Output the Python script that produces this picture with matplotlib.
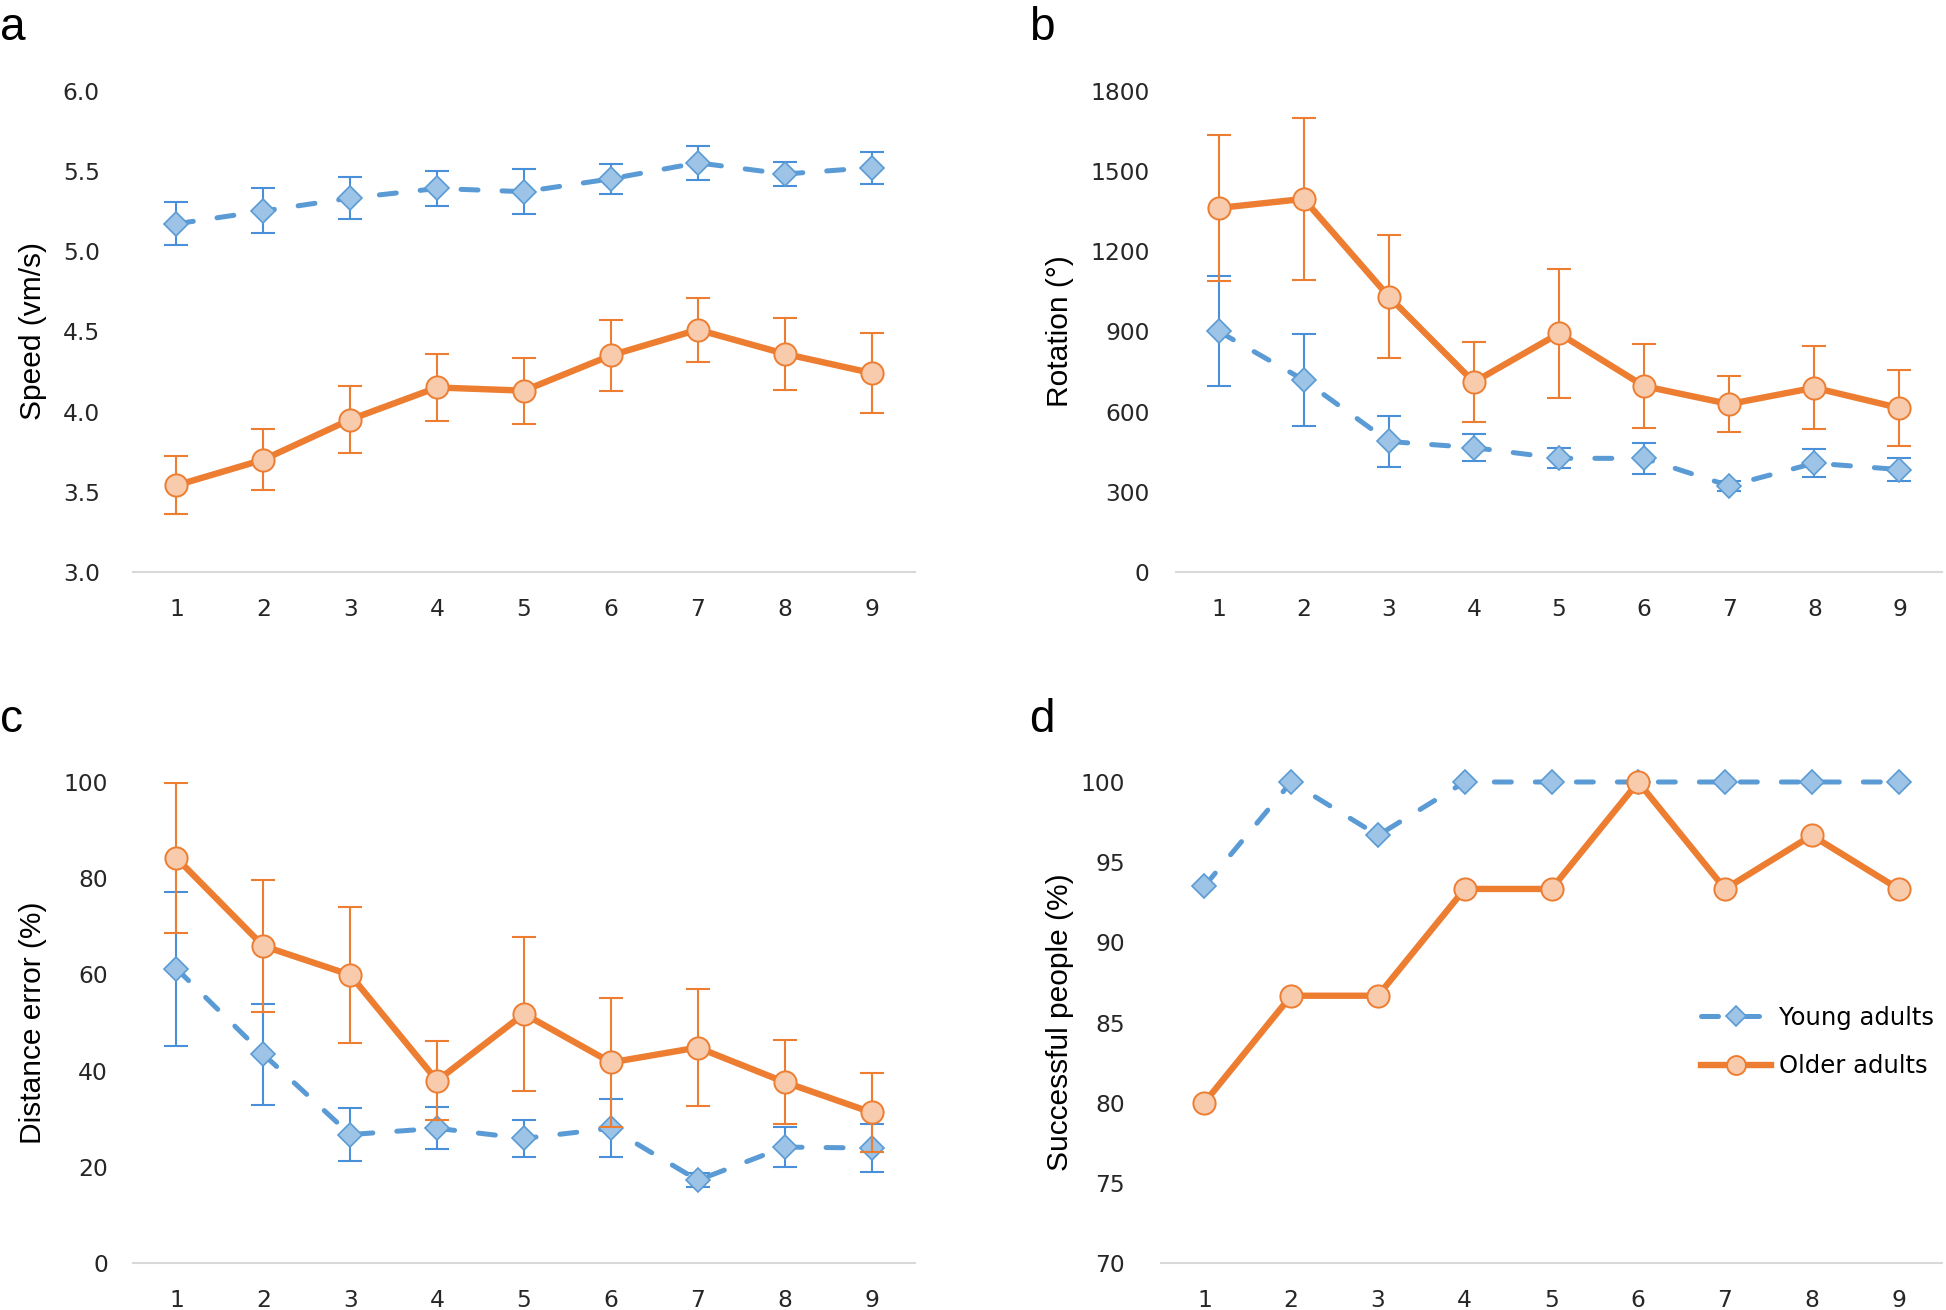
import matplotlib
matplotlib.use("Agg")
import matplotlib.pyplot as plt
from matplotlib import font_manager

# ---------------- data ----------------
sessions = [1, 2, 3, 4, 5, 6, 7, 8, 9]
series_names = ["Young adults", "Older adults"]

speed_young = [5.17, 5.25, 5.33, 5.39, 5.37, 5.45, 5.55, 5.48, 5.52]
speed_young_err = [0.135, 0.14, 0.13, 0.11, 0.14, 0.095, 0.105, 0.075, 0.10]
speed_older = [3.54, 3.70, 3.95, 4.15, 4.13, 4.35, 4.51, 4.36, 4.24]
speed_older_err = [0.18, 0.19, 0.21, 0.21, 0.205, 0.22, 0.20, 0.225, 0.25]

rot_young = [900, 718, 488, 465, 425, 425, 322, 407, 383]
rot_young_err = [205, 173, 94, 51, 38, 59, 20, 53, 43]
rot_older = [1361, 1395, 1030, 710, 892, 695, 628, 689, 613]
rot_older_err = [274, 304, 229, 149, 242, 158, 105, 155, 142]

dist_young = [61.2, 43.4, 26.7, 28.0, 25.9, 28.0, 17.2, 24.1, 23.9]
dist_young_err = [16, 10.5, 5.5, 4.4, 3.8, 6, 1.5, 4.1, 4.9]
dist_older = [84.2, 65.9, 59.9, 37.9, 51.8, 41.7, 44.8, 37.6, 31.3]
dist_older_err = [15.5, 13.7, 14.2, 8.2, 16, 13.4, 12.2, 8.7, 8.2]

succ_young = [93.5, 100, 96.67, 100, 100, 100, 100, 100, 100]
succ_older = [80, 86.67, 86.67, 93.33, 93.33, 100, 93.33, 96.67, 93.33]

panel_letters = ["a", "b", "c", "d"]
y_labels = ["Speed (vm/s)", "Rotation (°)", "Distance error (%)", "Successful people (%)"]
y_ticks = [
    [3.0, 3.5, 4.0, 4.5, 5.0, 5.5, 6.0],
    [0, 300, 600, 900, 1200, 1500, 1800],
    [0, 20, 40, 60, 80, 100],
    [70, 75, 80, 85, 90, 95, 100],
]
y_tick_fmt = ["{:.1f}", "{:.0f}", "{:.0f}", "{:.0f}"]

# ---------------- style ----------------
installed = {f.name for f in font_manager.fontManager.ttflist}
tick_font = "DejaVu Sans"
label_font = "Liberation Sans" if "Liberation Sans" in installed else "DejaVu Sans"

BLUE = "#5B9BD5"
BLUE_FACE = "#9DC3E6"
BLUE_ERR = "#4A90D9"
ORANGE = "#ED7D31"
ORANGE_FACE = "#F8CBAD"
TICK_COLOR = "#262626"

W, H = 1946, 1310
fig = plt.figure(figsize=(W / 100, H / 100), dpi=100)

# axes rectangles in pixels: left, top, right, bottom
rects_px = [
    (133, 90.6, 915, 572),
    (1176, 90.6, 1942, 572),
    (133, 782, 915, 1263),
    (1161, 782, 1942, 1263),
]
ytick_pads = [24, 19, 18, 26]
ylabel_x_px = [33, 1060, 33, 1060]
letter_pos_px = [(0, 40), (1029, 40), (0, 732), (1029, 732)]

datasets = [
    (speed_young, speed_young_err, speed_older, speed_older_err),
    (rot_young, rot_young_err, rot_older, rot_older_err),
    (dist_young, dist_young_err, dist_older, dist_older_err),
    (succ_young, None, succ_older, None),
]

for i, (l, t, r, b) in enumerate(rects_px):
    ax = fig.add_axes([l / W, 1 - b / H, (r - l) / W, (b - t) / H])
    yv, ye, ov, oe = datasets[i]

    # young adults: dashed blue with diamonds
    ax.errorbar(sessions, yv, yerr=ye, fmt="none", ecolor=BLUE_ERR,
                elinewidth=1.5, capsize=8.5, capthick=1.5, zorder=2)
    ln_y, = ax.plot(sessions, yv, color=BLUE, lw=3.6, linestyle=(0, (3.4, 4.8)),
                    dash_capstyle="round", marker="D", markersize=12,
                    markerfacecolor=BLUE_FACE, markeredgecolor=BLUE,
                    markeredgewidth=1.2, zorder=3, label=series_names[0])

    # older adults: solid orange with circles
    ax.errorbar(sessions, ov, yerr=oe, fmt="none", ecolor=ORANGE,
                elinewidth=1.5, capsize=8.5, capthick=1.5, zorder=4)
    ln_o, = ax.plot(sessions, ov, color=ORANGE, lw=4.6, linestyle="-",
                    marker="o", markersize=16, markerfacecolor=ORANGE_FACE,
                    markeredgecolor=ORANGE, markeredgewidth=1.4, zorder=5,
                    label=series_names[1])

    ax.set_xlim(0.5, 9.5)
    ax.set_ylim(y_ticks[i][0], y_ticks[i][-1])
    ax.set_xticks(sessions)
    ax.set_xticklabels([str(s) for s in sessions])
    ax.set_yticks(y_ticks[i])
    ax.set_yticklabels([y_tick_fmt[i].format(v) for v in y_ticks[i]])

    for sp in ("top", "right", "left"):
        ax.spines[sp].set_visible(False)
    ax.spines["bottom"].set_color("#D9D9D9")
    ax.spines["bottom"].set_linewidth(1.5)
    ax.spines["bottom"].set_zorder(1)
    ax.tick_params(axis="both", length=0, labelsize=16.8, colors=TICK_COLOR)
    ax.tick_params(axis="x", pad=19)
    ax.tick_params(axis="y", pad=ytick_pads[i])
    for lab in ax.get_xticklabels() + ax.get_yticklabels():
        lab.set_fontfamily(tick_font)
    ax.set_facecolor("none")
    for ln in (ln_y, ln_o):
        ln.set_clip_on(False)

    ax.set_ylabel(y_labels[i], fontsize=21.5, fontfamily=label_font, color="black")
    ax.yaxis.set_label_coords((ylabel_x_px[i] - l) / (r - l), 0.5)
    ax.yaxis.label.set_va("center")

    lx, ly = letter_pos_px[i]
    fig.text(lx / W, 1 - ly / H, panel_letters[i], fontsize=33,
             fontfamily=label_font, ha="left", va="baseline", color="black")

    if i == 3:
        ax.legend(handles=[ln_y, ln_o], loc="upper left",
                  bbox_to_anchor=((1701 - l) / (r - l), (b - 1006) / (b - t)),
                  frameon=False, prop={"family": tick_font, "size": 17.5},
                  handlelength=2.9, handletextpad=0.3, labelspacing=1.0,
                  borderpad=0, borderaxespad=0, markerscale=0.85)

fig.savefig("out.png", dpi=100)
